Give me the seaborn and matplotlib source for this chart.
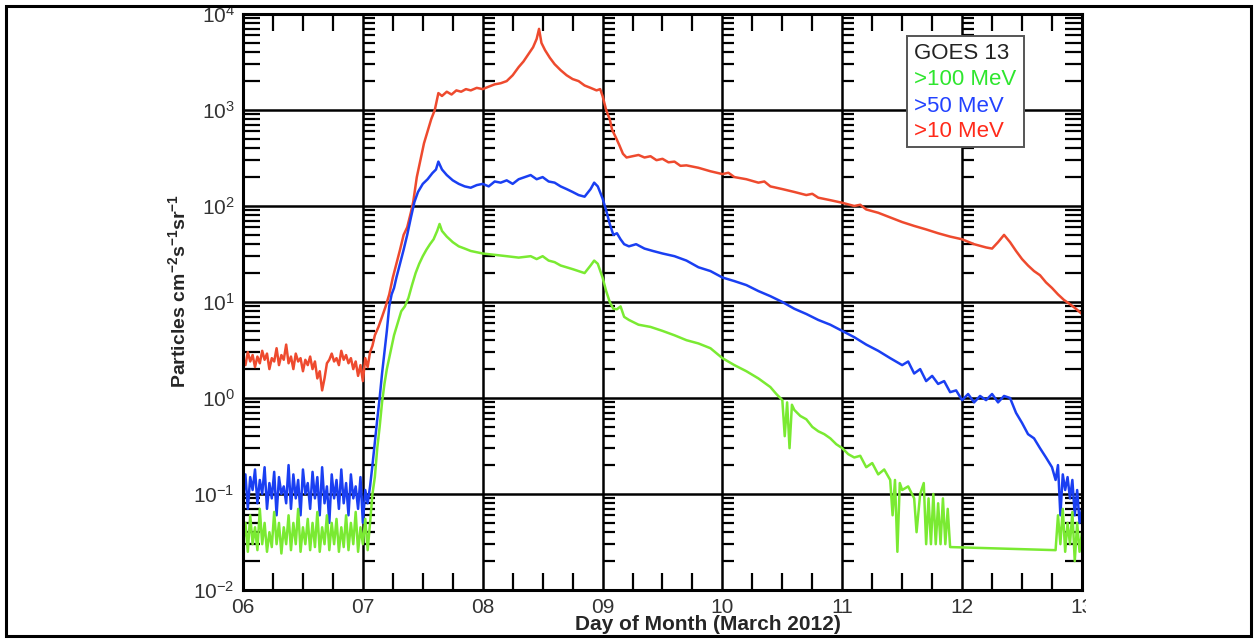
import numpy as np
import pandas as pd
import seaborn as sns
import matplotlib.pyplot as plt
from matplotlib.patches import Rectangle
from matplotlib.ticker import LogLocator, MultipleLocator
from matplotlib.transforms import Bbox, TransformedBbox

# --- data (day of March 2012, particles cm-2 s-1 sr-1) ---

# quiet pre-event baseline, 6.00 -> 7.06, evenly sampled
base_red = [2.6, 2.2, 3.0, 2.4, 2.8, 2.1, 2.7, 2.3, 3.1, 2.5, 2.9, 2.0, 2.6, 2.4, 3.3, 2.2, 2.8, 2.5,
            3.6, 2.3, 2.7, 2.0, 2.9, 2.4, 2.6, 1.9, 2.5, 2.2, 2.7, 2.0, 2.4, 1.6, 1.9, 1.2, 1.6, 2.3,
            2.5, 2.9, 2.4, 2.6, 2.2, 3.1, 2.5, 2.8, 2.3, 2.6, 2.0, 2.4, 1.7, 2.2, 1.5, 2.6, 2.1, 3.0]
base_blue = [0.09, 0.16, 0.07, 0.15, 0.11, 0.18, 0.08, 0.14, 0.10, 0.19, 0.07, 0.13, 0.09, 0.17, 0.06,
             0.15, 0.10, 0.12, 0.08, 0.20, 0.07, 0.16, 0.09, 0.14, 0.06, 0.18, 0.10, 0.13, 0.07, 0.17,
             0.09, 0.15, 0.06, 0.19, 0.08, 0.12, 0.05, 0.16, 0.09, 0.14, 0.07, 0.18, 0.08, 0.13, 0.06,
             0.16, 0.09, 0.12, 0.07, 0.15, 0.05, 0.11, 0.08, 0.12]
base_green = [0.03, 0.05, 0.025, 0.06, 0.03, 0.045, 0.026, 0.07, 0.03, 0.05, 0.025, 0.04, 0.028, 0.065,
              0.03, 0.05, 0.024, 0.045, 0.03, 0.06, 0.026, 0.05, 0.03, 0.07, 0.025, 0.045, 0.03, 0.055,
              0.026, 0.05, 0.028, 0.065, 0.025, 0.045, 0.03, 0.06, 0.026, 0.05, 0.03, 0.055, 0.025,
              0.045, 0.028, 0.06, 0.026, 0.05, 0.03, 0.065, 0.025, 0.045, 0.03, 0.055, 0.026, 0.05]
base_day = np.linspace(6.0, 7.06, len(base_red))

# event, >10 MeV
red_day = [7.08, 7.10, 7.13, 7.16, 7.19, 7.22, 7.25, 7.28, 7.31, 7.34, 7.37, 7.40, 7.42, 7.45, 7.48,
           7.51, 7.54, 7.57, 7.60, 7.63, 7.66, 7.70, 7.74, 7.78, 7.82, 7.86, 7.90, 7.95, 8.00, 8.05,
           8.10, 8.15, 8.20, 8.25, 8.30, 8.34, 8.38, 8.42, 8.45, 8.47, 8.49, 8.52, 8.56, 8.60, 8.65,
           8.70, 8.75, 8.80, 8.85, 8.90, 8.95, 8.98, 9.00, 9.03, 9.06, 9.08, 9.11, 9.14, 9.17, 9.20,
           9.25, 9.30, 9.35, 9.40, 9.45, 9.50, 9.55, 9.60, 9.65, 9.70, 9.80, 9.90, 10.00, 10.05, 10.10,
           10.20, 10.30, 10.35, 10.40, 10.50, 10.60, 10.70, 10.75, 10.80, 10.90, 11.00, 11.10, 11.15,
           11.20, 11.30, 11.40, 11.50, 11.60, 11.70, 11.80, 11.90, 12.00, 12.10, 12.20, 12.25, 12.30,
           12.35, 12.40, 12.45, 12.50, 12.55, 12.60, 12.65, 12.70, 12.75, 12.80, 12.85, 12.90, 12.95,
           13.00]
red_flux = [3.5, 4.5, 5.5, 7, 9, 12, 18, 25, 35, 50, 60, 85, 110, 200, 300,
            450, 600, 800, 1000, 1500, 1400, 1550, 1450, 1600, 1550, 1650, 1600, 1700, 1650, 1750,
            1850, 1900, 2000, 2300, 2800, 3200, 3800, 4500, 5500, 7000, 5000, 4200, 3500, 3000, 2600,
            2300, 2100, 2000, 1800, 1700, 1600, 1650, 1400, 1000, 800, 620, 520, 430, 350, 320,
            330, 340, 320, 330, 300, 310, 285, 290, 262, 265, 250, 230, 215, 222, 200,
            190, 175, 180, 160, 150, 140, 130, 134, 122, 115, 108, 100, 103,
            92, 85, 76, 68, 62, 57, 52, 48, 45, 40, 37, 36, 42,
            50, 42, 34, 28, 24, 21, 19, 16, 14, 12, 10.5, 9.5, 8.5,
            7.5]

# event, >50 MeV
blue_day = [7.08, 7.10, 7.12, 7.14, 7.16, 7.18, 7.20, 7.22, 7.24, 7.26, 7.28, 7.31, 7.34, 7.37, 7.40,
            7.43, 7.46, 7.50, 7.54, 7.58, 7.61, 7.63, 7.66, 7.70, 7.75, 7.80, 7.85, 7.90, 7.95, 8.00,
            8.05, 8.10, 8.15, 8.20, 8.25, 8.30, 8.35, 8.40, 8.45, 8.50, 8.55, 8.60, 8.65, 8.70, 8.75,
            8.80, 8.85, 8.90, 8.93, 8.96, 9.00, 9.03, 9.06, 9.09, 9.12, 9.15, 9.18, 9.22, 9.28, 9.35,
            9.42, 9.50, 9.60, 9.70, 9.80, 9.90, 10.00, 10.10, 10.20, 10.30, 10.40, 10.50, 10.60, 10.70,
            10.80, 10.90, 11.00, 11.10, 11.20, 11.30, 11.40, 11.50, 11.55, 11.60, 11.65, 11.70, 11.75,
            11.80, 11.85, 11.90, 11.95, 12.00, 12.05, 12.10, 12.15, 12.20, 12.25, 12.30, 12.35, 12.40,
            12.45, 12.50, 12.55, 12.60, 12.65, 12.70, 12.75, 12.78, 12.80, 12.82, 12.84, 12.86, 12.88,
            12.90, 12.92, 12.94, 12.96, 12.98, 13.00]
blue_flux = [0.2, 0.35, 0.6, 1.0, 1.8, 3, 5, 9, 12, 14, 18, 25, 35, 50, 75,
             110, 140, 170, 190, 220, 240, 290, 240, 210, 185, 170, 160, 155, 165, 170,
             160, 180, 175, 185, 170, 190, 200, 210, 190, 200, 180, 175, 160, 150, 140,
             130, 125, 150, 175, 160, 120, 90, 65, 50, 52, 45, 40, 38, 40, 36,
             34, 32, 30, 27, 23, 21, 18, 16.5, 15, 13, 11.5, 10, 8.5, 7.5,
             6.5, 5.8, 5.0, 4.3, 3.6, 3.1, 2.6, 2.2, 2.4, 1.8, 2.0, 1.5, 1.7,
             1.4, 1.5, 1.15, 1.2, 0.95, 1.1, 0.9, 1.05, 0.95, 1.1, 0.9, 1.05, 1.0,
             0.7, 0.55, 0.42, 0.38, 0.3, 0.24, 0.19, 0.14, 0.2, 0.06, 0.16, 0.11, 0.15,
             0.09, 0.14, 0.06, 0.11, 0.05, 0.07]

# event, >100 MeV
green_day = [7.08, 7.10, 7.12, 7.14, 7.16, 7.18, 7.20, 7.23, 7.26, 7.29, 7.32, 7.35, 7.38, 7.41, 7.44,
             7.47, 7.50, 7.53, 7.56, 7.59, 7.62, 7.64, 7.66, 7.70, 7.75, 7.80, 7.85, 7.90, 7.95, 8.00,
             8.10, 8.20, 8.30, 8.40, 8.45, 8.50, 8.55, 8.60, 8.65, 8.70, 8.75, 8.80, 8.85, 8.90, 8.93,
             8.96, 9.00, 9.03, 9.06, 9.09, 9.12, 9.15, 9.18, 9.22, 9.30, 9.40, 9.50, 9.60, 9.70, 9.80,
             9.90, 10.00, 10.10, 10.20, 10.30, 10.40, 10.45, 10.50, 10.52, 10.54, 10.56, 10.58, 10.60,
             10.65, 10.70, 10.75, 10.80, 10.85, 10.90, 10.95, 11.00, 11.05, 11.10, 11.15, 11.20, 11.25,
             11.30, 11.35, 11.40, 11.42, 11.44, 11.46, 11.48, 11.50, 11.55, 11.60, 11.62, 11.65, 11.68,
             11.70, 11.72, 11.74, 11.76, 11.78, 11.80, 11.82, 11.84, 11.86, 11.88, 11.90, 12.78, 12.80,
             12.82, 12.84, 12.86, 12.88, 12.90, 12.92, 12.94, 12.96, 12.98, 13.00]
green_flux = [0.1, 0.15, 0.3, 0.5, 0.9, 1.4, 2, 3, 4.5, 6, 8, 9, 11, 15, 20,
              25, 30, 35, 40, 45, 55, 65, 55, 48, 42, 38, 36, 34, 33, 32,
              31, 30, 29, 30, 28, 30, 27, 26, 24, 23, 22, 21, 20, 24, 27,
              25, 18, 13, 10, 8.5, 8.4, 9, 7, 6.5, 5.8, 5.5, 5.0, 4.5, 4.0, 3.7,
              3.3, 2.6, 2.2, 1.9, 1.6, 1.3, 1.1, 0.95, 0.4, 0.9, 0.3, 0.85, 0.75,
              0.65, 0.6, 0.5, 0.45, 0.42, 0.38, 0.33, 0.3, 0.26, 0.24, 0.25, 0.19, 0.21,
              0.16, 0.18, 0.14, 0.06, 0.14, 0.025, 0.13, 0.11, 0.12, 0.09, 0.04, 0.1, 0.13,
              0.03, 0.09, 0.03, 0.1, 0.03, 0.08, 0.03, 0.09, 0.03, 0.07, 0.028, 0.026, 0.06,
              0.03, 0.07, 0.025, 0.05, 0.03, 0.065, 0.02, 0.05, 0.025, 0.04]

channels = ['>10 MeV', '>50 MeV', '>100 MeV']
line_colors = {'>10 MeV': '#ee4a2e', '>50 MeV': '#1a3ff2', '>100 MeV': '#7aea32'}
text_colors = {'>10 MeV': '#ff2a1a', '>50 MeV': '#2242ff', '>100 MeV': '#2ee62e'}

day_ticks = [6, 7, 8, 9, 10, 11, 12, 13]
day_labels = ['06', '07', '08', '09', '10', '11', '12', '13']

# --- long table for seaborn ---
frames = []
for name, bvals, d, v in [(channels[0], base_red, red_day, red_flux),
                          (channels[1], base_blue, blue_day, blue_flux),
                          (channels[2], base_green, green_day, green_flux)]:
    frames.append(pd.DataFrame({'day': np.concatenate([base_day, d]),
                                'flux': np.concatenate([bvals, v]),
                                'channel': name}))
df = pd.concat(frames, ignore_index=True)

sns.set_theme(style='white')
plt.rcParams['font.family'] = ['Liberation Sans', 'DejaVu Sans']
plt.rcParams['mathtext.fontset'] = 'custom'
plt.rcParams['mathtext.rm'] = 'Liberation Sans'
plt.rcParams['mathtext.bf'] = 'Liberation Sans:bold'

fig = plt.figure(figsize=(12.54, 6.39), dpi=100)
ax = fig.add_axes([0.1938, 0.0767, 0.669, 0.9014])

sns.lineplot(data=df, x='day', y='flux', hue='channel', hue_order=channels,
             palette=line_colors, estimator=None, sort=False, lw=1.8, legend=False, ax=ax)

ax.set_yscale('log')
ax.set_xlim(6, 13)
ax.set_ylim(1e-2, 1e4)

# grid: one line per day and per decade
ax.grid(True, which='major', color='black', lw=1.8)
ax.set_axisbelow(True)
for s in ax.spines.values():
    s.set_color('black')
    s.set_linewidth(2.2)

ax.set_xticks(day_ticks)
ax.set_xticklabels(day_labels)
ax.xaxis.set_minor_locator(MultipleLocator(0.25))
ax.yaxis.set_major_locator(LogLocator(base=10, numticks=10))
ax.yaxis.set_minor_locator(LogLocator(base=10, subs=np.arange(2, 10), numticks=10))
ax.yaxis.set_minor_formatter(plt.NullFormatter())

ax.tick_params(which='major', length=0, labelsize=15, labelcolor='#333333', pad=6)
ax.tick_params(which='minor', direction='in', length=12, width=1.6, color='black',
               top=True, bottom=True, left=True, right=True)

# minor y ticks repeated along each interior day line
minor_y = [m * 10.0 ** e for e in range(-2, 4) for m in range(2, 10)]
for d in day_ticks[1:-1]:
    ax.hlines(minor_y, d, d + 0.1, color='black', lw=1.6, zorder=1.5)

# last x label is cut at the right edge of the plot
clip = TransformedBbox(Bbox([[-0.2, -0.3], [1.005, 1.0]]), ax.transAxes)
for lab in ax.get_xticklabels():
    lab.set_clip_on(True)
    lab.set_clip_box(clip)

ax.set_xlabel('Day of Month (March 2012)', fontsize=15, fontweight='bold')
ax.xaxis.set_label_coords(0.554, -0.044)
ax.set_ylabel(r'Particles cm$^{\mathbf{-2}}$s$^{\mathbf{-1}}$sr$^{\mathbf{-1}}$',
              fontsize=14, fontweight='bold')
ax.yaxis.set_label_coords(-0.063, 0.52)

# legend box
ax.add_patch(Rectangle((0.7914, 0.769), 0.1395, 0.1928, transform=ax.transAxes,
                       facecolor='white', edgecolor='#555555', lw=1.4, zorder=5))
ax.text(0.8, 0.932, 'GOES 13', transform=ax.transAxes, fontsize=16, color='#222222',
        va='center', zorder=6)
for y, name in zip([0.887, 0.839, 0.796], ['>100 MeV', '>50 MeV', '>10 MeV']):
    ax.text(0.8, y, name, transform=ax.transAxes, fontsize=16, color=text_colors[name],
            va='center', zorder=6)

# frame around the whole figure
fig.patches.append(Rectangle((0.005, 0.004), 0.993, 0.986, transform=fig.transFigure,
                             fill=False, edgecolor='black', lw=2.2))

fig.savefig('out.png', dpi=100, facecolor='white')
